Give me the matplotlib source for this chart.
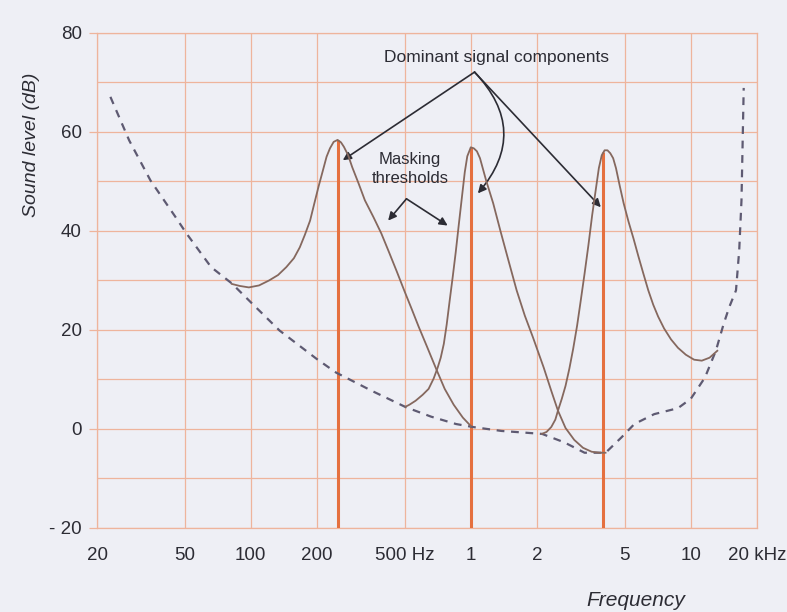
import matplotlib
matplotlib.use("Agg")
import matplotlib.pyplot as plt
from matplotlib.ticker import FixedLocator, NullLocator

plt.rcParams['font.family'] = ['Liberation Sans', 'DejaVu Sans']

# threshold in quiet (dashed)
threshold_hz = [23, 28, 35, 45.5, 51, 66, 82, 100, 135, 200, 244, 355, 507, 659, 857, 1021,
                1380, 1710, 2110, 2660, 3290, 4100, 4840, 5540, 6820, 8740, 10000, 11600,
                13000, 14100, 14950, 16050, 16600, 17000, 17400]
threshold_db = [67.1, 58.3, 50.2, 42.8, 39.5, 32.7, 29.4, 25.6, 19.9, 14.1, 11.4, 7.7, 4.4, 2.5, 1.0, 0.4,
                -0.4, -0.7, -1.0, -2.7, -4.8, -4.8, -1.7, 1.0, 3.0, 4.2, 6.1, 10.4,
                15.8, 21.2, 24.6, 28.0, 36.1, 46.2, 68.9]

# masking thresholds of the three tones
mask_250_hz = [82, 89, 98, 109, 121, 133, 145, 157, 167, 176, 186, 194, 203, 212, 221, 229, 238, 248,
               257, 265, 277, 289, 309, 330, 361, 392, 425, 461, 500, 538, 579, 630, 695, 761, 836,
               920, 1000]
mask_250_db = [29.3, 28.9, 28.6, 29.0, 30.0, 31.1, 32.7, 34.5, 36.7, 39.2, 42.1, 45.4, 48.9, 52.0, 55.0,
               56.7, 58.0, 58.4, 57.9, 57.0, 55.3, 52.9, 49.6, 46.2, 42.8, 39.5, 35.7, 31.8, 27.8, 24.3,
               20.7, 16.8, 12.2, 8.1, 4.9, 2.3, 0.6]

mask_1k_hz = [505, 526, 561, 604, 643, 678, 707, 730, 754, 777, 802, 828, 854, 881, 910, 939, 964,
              1000, 1032, 1066, 1101, 1174, 1264, 1362, 1484, 1616, 1760, 1917, 2145, 2322, 2490,
              2695, 2952, 3236, 3543, 3852, 4097]
mask_1k_db = [4.5, 4.9, 5.7, 6.9, 8.1, 10.2, 12.4, 14.4, 17.2, 21.1, 26.0, 30.8, 35.7, 41.1, 46.6, 51.9,
              55.1, 56.9, 56.7, 56.1, 54.7, 50.2, 45.6, 40.1, 34.0, 28.0, 22.9, 18.5, 12.4, 7.7, 3.7,
              0.2, -2.2, -3.8, -4.6, -4.8, -4.8]

mask_4k_hz = [2101, 2209, 2322, 2423, 2490, 2592, 2695, 2806, 2920, 3043, 3162, 3290, 3424, 3562,
              3706, 3820, 3938, 4057, 4181, 4307, 4437, 4570, 4760, 4952, 5210, 5488, 5777, 6086,
              6410, 6750, 7107, 7563, 8130, 8743, 9495, 10350, 11220, 12170, 13200]
mask_4k_db = [-1.0, -0.6, 0.4, 1.9, 3.7, 6.1, 8.7, 12.2, 16.2, 20.9, 26.0, 31.4, 37.1, 43.2,
              48.6, 52.7, 55.3, 56.3, 56.3, 55.7, 54.7, 52.7, 49.0, 45.6, 41.9, 38.5, 34.9, 31.4,
              28.0, 25.1, 22.7, 20.3, 18.1, 16.4, 15.0, 14.0, 13.8, 14.4, 15.8]

# dominant signal components
signal_hz = [250, 1000, 4000]
signal_db = [58.4, 56.9, 56.0]

x_ticks = [20, 50, 100, 200, 500, 1000, 2000, 5000, 10000, 20000]
x_labels = ['20', '50', '100', '200', '500 Hz', '1', '2', '5', '10', '20 kHz']
y_ticks = [-20, 0, 20, 40, 60, 80]
y_labels = ['- 20', '0', '20', '40', '60', '80']

bg = '#eeeff5'
grid_c = '#eeb49c'
txt_c = '#2c2c34'

fig = plt.figure(figsize=(7.87, 6.12), dpi=100, facecolor=bg)
ax = fig.add_axes([0.1233, 0.1373, 0.8386, 0.8088], facecolor=bg)

ax.set_xscale('log')
ax.set_xlim(20, 20000)
ax.set_ylim(-20, 80)

ax.xaxis.set_major_locator(FixedLocator(x_ticks))
ax.xaxis.set_minor_locator(NullLocator())
ax.set_xticklabels(x_labels)
ax.yaxis.set_major_locator(FixedLocator(y_ticks))
ax.yaxis.set_minor_locator(FixedLocator(range(-10, 80, 20)))
ax.set_yticklabels(y_labels)

ax.grid(True, which='major', color=grid_c, lw=0.9)
ax.grid(True, which='minor', axis='y', color=grid_c, lw=0.9)
ax.tick_params(axis='x', length=0, pad=14, labelsize=13.5, labelcolor=txt_c)
ax.tick_params(axis='y', which='major', length=6, width=0.9, color=grid_c, pad=5,
               labelsize=13.5, labelcolor=txt_c)
ax.tick_params(axis='y', which='minor', length=0)
for s in ax.spines.values():
    s.set_color(grid_c)
    s.set_linewidth(0.9)

# signal lines
ax.vlines(signal_hz, -20, signal_db, color='#e5703f', lw=2.2, zorder=3)

# threshold in quiet
ax.plot(threshold_hz, threshold_db, color='#5e5a72', lw=1.6, ls=(0, (3.5, 3)), zorder=4)

# masking curves
for hz, db in [(mask_250_hz, mask_250_db), (mask_1k_hz, mask_1k_db), (mask_4k_hz, mask_4k_db)]:
    ax.plot(hz, db, color='#85685e', lw=1.3, zorder=4)

# annotations
arr = dict(arrowstyle='-|>', color=txt_c, lw=1.2, mutation_scale=12, shrinkA=0, shrinkB=0)
ax.text(1305, 75.1, 'Dominant signal components', ha='center', va='center',
        fontsize=12.5, color=txt_c)
apex = (1040, 72.1)
ax.annotate('', xy=(262, 54.3), xytext=apex, arrowprops=arr)
ax.annotate('', xy=(1077, 47.6), xytext=apex,
            arrowprops=dict(arr, connectionstyle='arc3,rad=-0.45'))
ax.annotate('', xy=(3900, 44.8), xytext=apex, arrowprops=arr)

ax.text(530, 52.5, 'Masking\nthresholds', ha='center', va='center', fontsize=12,
        linespacing=1.3, color=txt_c)
apex2 = (510, 46.5)
ax.annotate('', xy=(421, 42.1), xytext=apex2, arrowprops=arr)
ax.annotate('', xy=(785, 41.1), xytext=apex2, arrowprops=arr)

fig.text(0.040, 0.764, 'Sound level (dB)', rotation=90, ha='center', va='center',
         fontsize=14, style='italic', color=txt_c)
fig.text(0.808, 0.0105, 'Frequency', ha='center', va='baseline', fontsize=15,
         style='italic', color=txt_c)

fig.savefig('out.png', dpi=100, facecolor=bg)
